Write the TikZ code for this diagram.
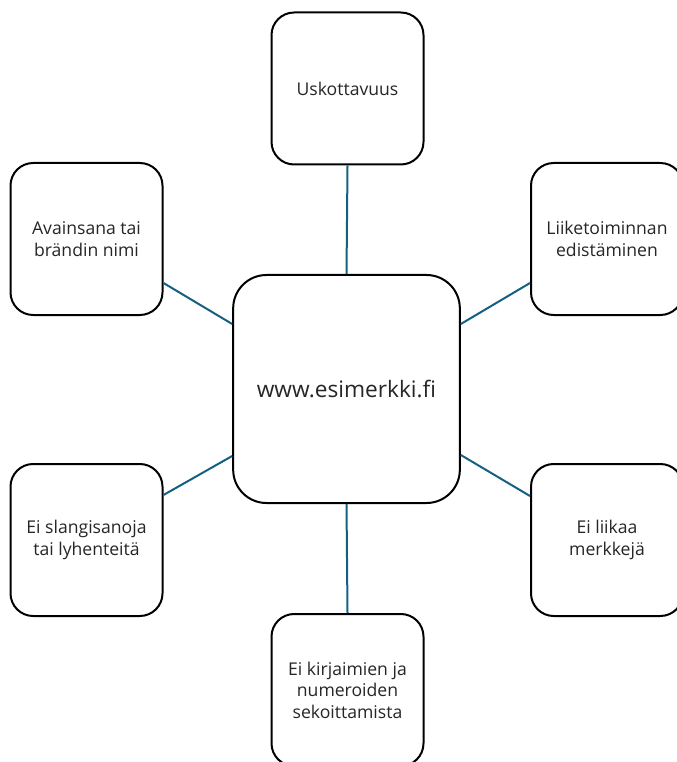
\documentclass[tikz,border=0pt]{standalone}
\usepackage{fontspec}
\setmainfont{Open Sans}
\usepackage{xcolor}
\definecolor{linkline}{RGB}{21,96,130}
\definecolor{boxtext}{RGB}{38,38,38}
\usetikzlibrary{positioning}
\usetikzlibrary{calc}

\begin{document}
\begin{tikzpicture}[x=0.75pt, y=-0.75pt,
  every node/.style={text=boxtext, align=center},
  topicbox/.style={draw=black, line width=1.5pt, fill=white, rounded corners=17pt,
    minimum width=114pt, minimum height=114pt, inner sep=3pt, font=\fontsize{13.2}{16.2}\selectfont},
  hubbox/.style={draw=black, line width=1.5pt, fill=white, rounded corners=25pt,
    minimum width=170pt, minimum height=171pt, font=\fontsize{17}{20}\selectfont},
  link/.style={draw=linkline, line width=1.5pt}]

  \useasboundingbox (0,0) rectangle (676,762);

  % hub
  \node[hubbox] (hub) at (346.5,389) {www.esimerkki.fi};

  % topics
  \node[topicbox] (top) at (347.5,88.5) {Uskottavuus};
  \node[topicbox] (upleft) at (86.5,239) {Avainsana tai\\brändin nimi};
  \node[topicbox] (upright) at (607,239) {Liiketoiminnan\\edistäminen};
  \node[topicbox] (lowleft) at (86.5,540) {Ei slangisanoja\\tai lyhenteitä};
  \node[topicbox] (lowright) at (607,540) {Ei liikaa\\merkkejä};
  \node[topicbox] (bottom) at (347.5,690) {Ei kirjaimien ja\\numeroiden\\sekoittamista};

  % links
  \draw[link] (top.south) -- (hub.north);
  \draw[link] (bottom.north) -- (hub.south);
  \draw[link] ($(upleft.east)+(0,44)$) -- ($(hub.west)+(0,-65)$);
  \draw[link] ($(hub.east)+(0,-65)$) -- ($(upright.west)+(0,44)$);
  \draw[link] ($(lowleft.east)+(0,-45)$) -- ($(hub.west)+(0,67)$);
  \draw[link] ($(hub.east)+(0,66)$) -- ($(lowright.west)+(0,-44)$);

\end{tikzpicture}
\end{document}
